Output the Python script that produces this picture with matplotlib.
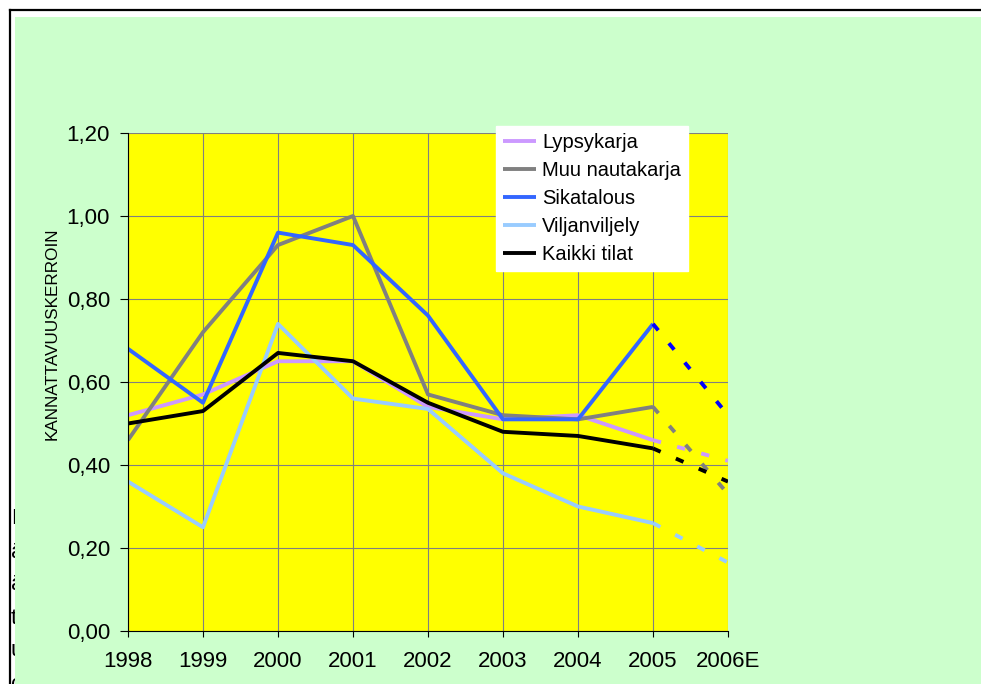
import numpy as np
import matplotlib
matplotlib.use('Agg')
import matplotlib.pyplot as plt
from matplotlib.patches import Rectangle
from matplotlib.lines import Line2D

plt.rcParams['font.family'] = ['Liberation Sans', 'DejaVu Sans']
plt.rcParams['lines.scale_dashes'] = False

# data (2006E is an estimate, drawn dashed)
years = ['1998', '1999', '2000', '2001', '2002', '2003', '2004', '2005', '2006E']
lypsykarja = [0.52, 0.57, 0.65, 0.65, 0.54, 0.51, 0.52, 0.46, 0.41]
muu_nautakarja = [0.46, 0.72, 0.93, 1.00, 0.57, 0.52, 0.51, 0.54, 0.33]
sikatalous = [0.68, 0.55, 0.96, 0.93, 0.76, 0.51, 0.51, 0.74, 0.52]
viljanviljely = [0.36, 0.25, 0.74, 0.56, 0.535, 0.38, 0.30, 0.26, 0.165]
kaikki_tilat = [0.50, 0.53, 0.67, 0.65, 0.55, 0.48, 0.47, 0.44, 0.36]

labels = ['Lypsykarja', 'Muu nautakarja', 'Sikatalous', 'Viljanviljely', 'Kaikki tilat']
series = [lypsykarja, muu_nautakarja, sikatalous, viljanviljely, kaikki_tilat]
colors = ['#CC99FF', '#808080', '#3366FF', '#99CCFF', '#000000']
est_colors = ['#CC99FF', '#808080', '#0000FF', '#99CCFF', '#000000']
yticks = [0.0, 0.2, 0.4, 0.6, 0.8, 1.0, 1.2]

W, H = 981, 684
fig = plt.figure(figsize=(W / 100, H / 100), dpi=100, facecolor='white')

# text hidden behind the chart box, only a sliver shows at the left
for k, ch in enumerate(['F', 'ä', 'ä', 't', 'u', 'c']):
    fig.text(11 / W, 1 - (519 + k * 33) / H, ch, fontsize=16, va='center',
             ha='left', zorder=-3)
fig.patches.append(Rectangle((15 / W, 0), 1, 1 - 17 / H, transform=fig.transFigure,
                             facecolor='#CCFFCC', edgecolor='none', zorder=-1))
fig.lines.append(Line2D([9.5 / W, 9.5 / W], [0, 1 - 10 / H], transform=fig.transFigure,
                        color='black', lw=1.6, zorder=-1))
fig.lines.append(Line2D([9.5 / W, 1], [1 - 10 / H, 1 - 10 / H], transform=fig.transFigure,
                        color='black', lw=1.6, zorder=-1))

ax = fig.add_axes([128 / W, 1 - 631 / H, 600 / W, 498 / H])
ax.set_facecolor('#FFFF00')
ax.set_axisbelow(True)

x = np.arange(len(years))
for vals, lab, c, ce in zip(series, labels, colors, est_colors):
    ax.plot(x[:-1], vals[:-1], color=c, lw=2.8, label=lab, solid_capstyle='butt')
    ax.plot(x[-2:], vals[-2:], color=ce, lw=2.8, dashes=(6, 12), dash_capstyle='butt')

ax.set_xlim(0, len(years) - 1)
ax.set_ylim(0, 1.2)
ax.set_xticks(x)
ax.set_xticklabels(years)
ax.set_yticks(yticks)
ax.set_yticklabels([('%.2f' % v).replace('.', ',') for v in yticks])
ax.grid(True, color='#808080', lw=0.8)
for s in ['top', 'right']:
    ax.spines[s].set_visible(False)
for s in ['left', 'bottom']:
    ax.spines[s].set_color('black')
    ax.spines[s].set_linewidth(0.8)
ax.tick_params(axis='y', direction='out', length=6, width=0.8, pad=7, labelsize=16)
ax.tick_params(axis='x', direction='out', length=4.5, width=0.8, pad=10, labelsize=16)

fig.text(52 / W, 1 - 334 / H, 'KANNATTAVUUSKERROIN', rotation=90,
         ha='center', va='center', fontsize=12.3)

leg = ax.legend(loc='upper left', bbox_to_anchor=(496 / W, 1 - 126 / H),
                bbox_transform=fig.transFigure, fontsize=14.5, frameon=True,
                fancybox=False, borderaxespad=0, handlelength=1.65,
                handletextpad=0.3, labelspacing=0.45, borderpad=0.35)
leg.get_frame().set_facecolor('white')
leg.get_frame().set_edgecolor('white')
leg.get_frame().set_alpha(1)

fig.savefig('out.png', dpi=100, facecolor='white')
